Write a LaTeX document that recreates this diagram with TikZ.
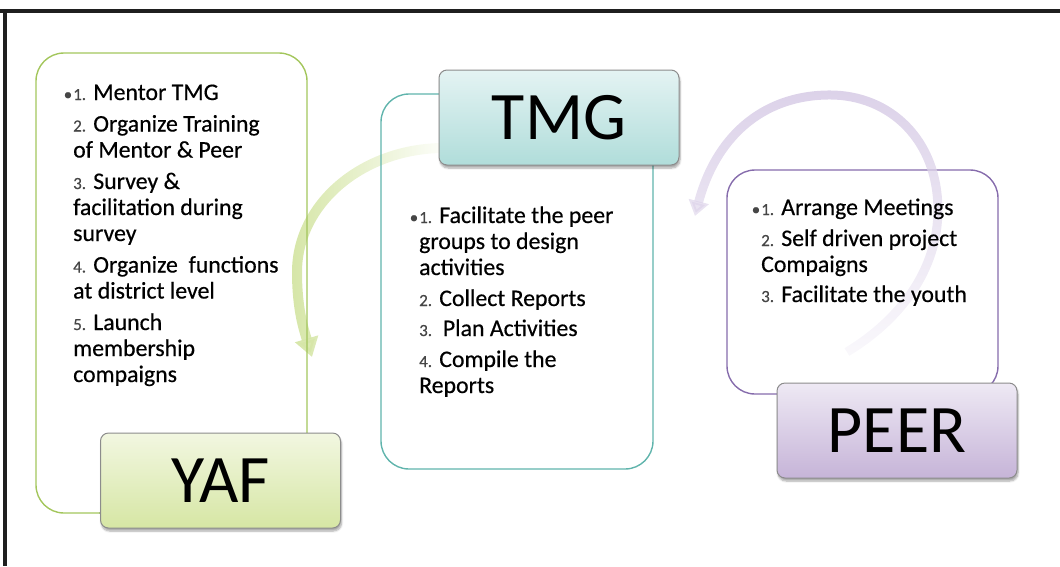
\documentclass[tikz,border=0pt]{standalone}
\usepackage{fontspec}
\setmainfont{Carlito}[FakeBold=0.5]
\newfontfamily\labelfont{Carlito}
\usetikzlibrary{arrows.meta,shadows.blur,fadings}
\definecolor{yafline}{RGB}{163,198,92}
\definecolor{tmgline}{RGB}{96,180,172}
\definecolor{peerline}{RGB}{134,108,172}
\definecolor{yaftop}{RGB}{242,247,225}
\definecolor{yafbot}{RGB}{214,230,164}
\definecolor{tmgtop}{RGB}{228,243,243}
\definecolor{tmgbot}{RGB}{176,221,218}
\definecolor{peertop}{RGB}{238,233,244}
\definecolor{peerbot}{RGB}{198,180,216}
\definecolor{greenarc}{RGB}{214,230,168}
\definecolor{purparc}{RGB}{220,210,233}
\definecolor{numgray}{RGB}{70,70,70}
\definecolor{labelborder}{RGB}{140,140,140}
\tikzfading[name=fadegreen, left color=transparent!0, right color=transparent!95]
\tikzfading[name=fadepurple, top color=transparent!0, middle color=transparent!15, bottom color=transparent!85]
\newcommand\nm[1]{{\fontsize{17}{17}\selectfont\color{numgray}#1}}
\newcommand\bl{\llap{{\fontsize{17}{17}\selectfont\color{numgray}\textbullet\hspace{1pt}}}}
\tikzset{
  contentbox/.style={draw, line width=1.4pt, rounded corners=28pt, inner sep=0pt},
  labelbox/.style={draw=labelborder, line width=1pt, rounded corners=8pt, inner sep=0pt,
    minimum width=240pt, minimum height=95pt,
    font=\labelfont\fontsize{68}{68}\selectfont,
    blur shadow={shadow xshift=1pt, shadow yshift=-3pt, shadow blur steps=6, shadow opacity=35}},
  itemtext/.style={anchor=base west, inner sep=0pt, font=\fontsize{23.8}{26}\selectfont},
  frameline/.style={line width=4pt, black!88},
  arcline/.style={line width=10pt, line cap=butt},
}
\begin{document}
\begin{tikzpicture}[x=1pt, y=-1pt]
\useasboundingbox (0,0) rectangle (1060,566);
% frame
\draw[frameline] (0,11) -- (1060,11);
\draw[frameline] (5,9) -- (5,566);
% green arc (under the boxes)
\coordinate (gs) at (440,148);
\coordinate (gm) at (297,272);
\coordinate (ge) at (312,357);
\draw[arcline, greenarc, path fading=fadegreen, -{Triangle[width=23pt,length=19pt]}]
  (gs) .. controls (360,150) and (297,205) .. (gm) .. controls (297,310) and (304,330) .. (ge);
% content boxes
\node[contentbox, draw=yafline, minimum width=271pt, minimum height=460pt] (yafbox) at (171.5,283) {};
\node[contentbox, draw=tmgline, minimum width=272pt, minimum height=375pt] (tmgbox) at (517,281.5) {};
\node[contentbox, draw=peerline, minimum width=271pt, minimum height=224pt] (peerbox) at (862.5,282) {};
% purple arc
\coordinate (ps) at (847,352);
\coordinate (pr) at (938,210);
\coordinate (pt) at (830,95);
\coordinate (pe) at (695,216);
\draw[arcline, line width=9pt, purparc, path fading=fadepurple, -{Triangle[width=20pt,length=15pt]}]
  (ps) .. controls (900,320) and (938,270) .. (pr) .. controls (938,140) and (890,95) .. (pt) .. controls (760,95) and (715,140) .. (pe);
% labels
\node[labelbox, top color=yaftop, bottom color=yafbot] (yaf) at (220.5,480.5) {YAF};
\node[labelbox, top color=tmgtop, bottom color=tmgbot] (tmg) at (559,117.5) {TMG};
\node[labelbox, top color=peertop, bottom color=peerbot] (peer) at (897,430.5) {PEER};
% texts
\node[itemtext] (yaftext) at (73,100) {\begin{tabular}[t]{@{}l@{}}
\bl\nm{1.} Mentor TMG\\[5.5pt]
\nm{2.} Organize Training\\
of Mentor \& Peer\\[5.5pt]
\nm{3.} Survey \&\\
facilitation during\\
survey\\[5.5pt]
\nm{4.} Organize\ \ functions\\
at district level\\[5.5pt]
\nm{5.} Launch\\
membership\\
compaigns
\end{tabular}};
\node[itemtext] (tmgtext) at (419,223) {\begin{tabular}[t]{@{}l@{}}
\bl\nm{1.} Facilitate the peer\\
groups to design\\
activities\\[5pt]
\nm{2.} Collect Reports\\[4pt]
\nm{3.}\ \ Plan Activities\\[5pt]
\nm{4.} Compile the\\
Reports
\end{tabular}};
\node[itemtext] (peertext) at (761,215) {\begin{tabular}[t]{@{}l@{}}
\bl\nm{1.} Arrange Meetings\\[5pt]
\nm{2.} Self driven project\\
Compaigns\\[4pt]
\nm{3.} Facilitate the youth
\end{tabular}};
\end{tikzpicture}
\end{document}
